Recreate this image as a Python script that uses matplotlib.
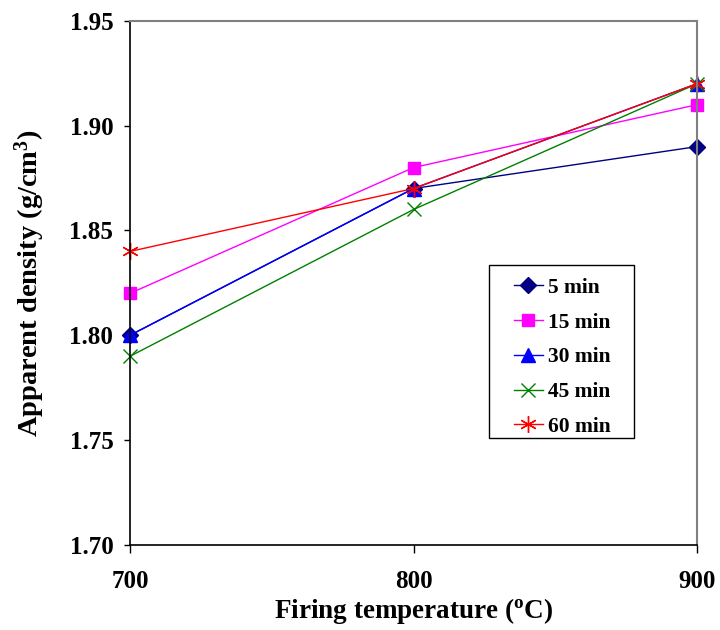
import matplotlib.pyplot as plt
from matplotlib.patches import Rectangle

temps = [700, 800, 900]
d_5 = [1.80, 1.87, 1.89]
d_15 = [1.82, 1.88, 1.91]
d_30 = [1.80, 1.87, 1.92]
d_45 = [1.79, 1.86, 1.92]
d_60 = [1.84, 1.87, 1.92]
y_ticks = [1.70, 1.75, 1.80, 1.85, 1.90, 1.95]
x_ticks = [700, 800, 900]

plt.rcParams['font.family'] = ['Liberation Serif', 'DejaVu Serif']
plt.rcParams['font.weight'] = 'bold'

fig = plt.figure(figsize=(7.2, 6.3), dpi=100)
ax = fig.add_axes([0.1806, 0.135, 0.7875, 0.832])

ax.plot(temps, d_5, color='#000080', marker='D', markersize=8, lw=1, label='5 min', clip_on=False)
ax.plot(temps, d_15, color='#FF00FF', marker='s', markersize=9, lw=1, label='15 min', clip_on=False)
ax.plot(temps, d_30, color='#0000FF', marker='^', markersize=10, lw=1, label='30 min', clip_on=False)
ax.plot(temps, d_45, color='#008000', marker='x', markersize=10, mew=1, lw=1, label='45 min', clip_on=False)
ax.plot(temps, d_60, color='#FF0000', marker=(6, 2, 0), markersize=12, mew=1, lw=1, label='60 min', clip_on=False)

ax.set_xlim(700, 900)
ax.set_ylim(1.70, 1.95)
ax.set_xticks(x_ticks)
ax.set_yticks(y_ticks)
ax.set_yticklabels(['%.2f' % v for v in y_ticks])
ax.tick_params(axis='x', labelsize=18, length=6, width=1, direction='out', pad=12)
ax.tick_params(axis='y', labelsize=18, length=4, width=1, direction='out', pad=8)

for s in ['left', 'bottom']:
    ax.spines[s].set_color('black')
    ax.spines[s].set_linewidth(1.2)
for s in ['top', 'right']:
    ax.spines[s].set_color('#808080')
    ax.spines[s].set_linewidth(1.5)
for lab in ax.get_xticklabels() + ax.get_yticklabels():
    lab.set_fontweight('bold')

ax.set_xlabel('Firing temperature ($\\mathregular{^o}$C)', fontsize=19.5, fontweight='bold', labelpad=2)
ax.set_ylabel('Apparent density (g/cm$\\mathregular{^3}$)', fontsize=20.5, fontweight='bold', labelpad=16)

# legend without its own frame; box drawn separately so it can be wider
leg = ax.legend(loc='upper left', bbox_to_anchor=(0.677, 0.5095), frameon=False,
                fontsize=15.5, handlelength=1.35, labelspacing=0.68,
                borderpad=0, handletextpad=0.25, borderaxespad=0)
for t in leg.get_texts():
    t.set_fontweight('bold')
ax.add_patch(Rectangle((0.633, 0.204), 0.256, 0.33, transform=ax.transAxes,
                       fill=False, edgecolor='black', lw=1.0, clip_on=False))

fig.savefig('out.png', dpi=100)
